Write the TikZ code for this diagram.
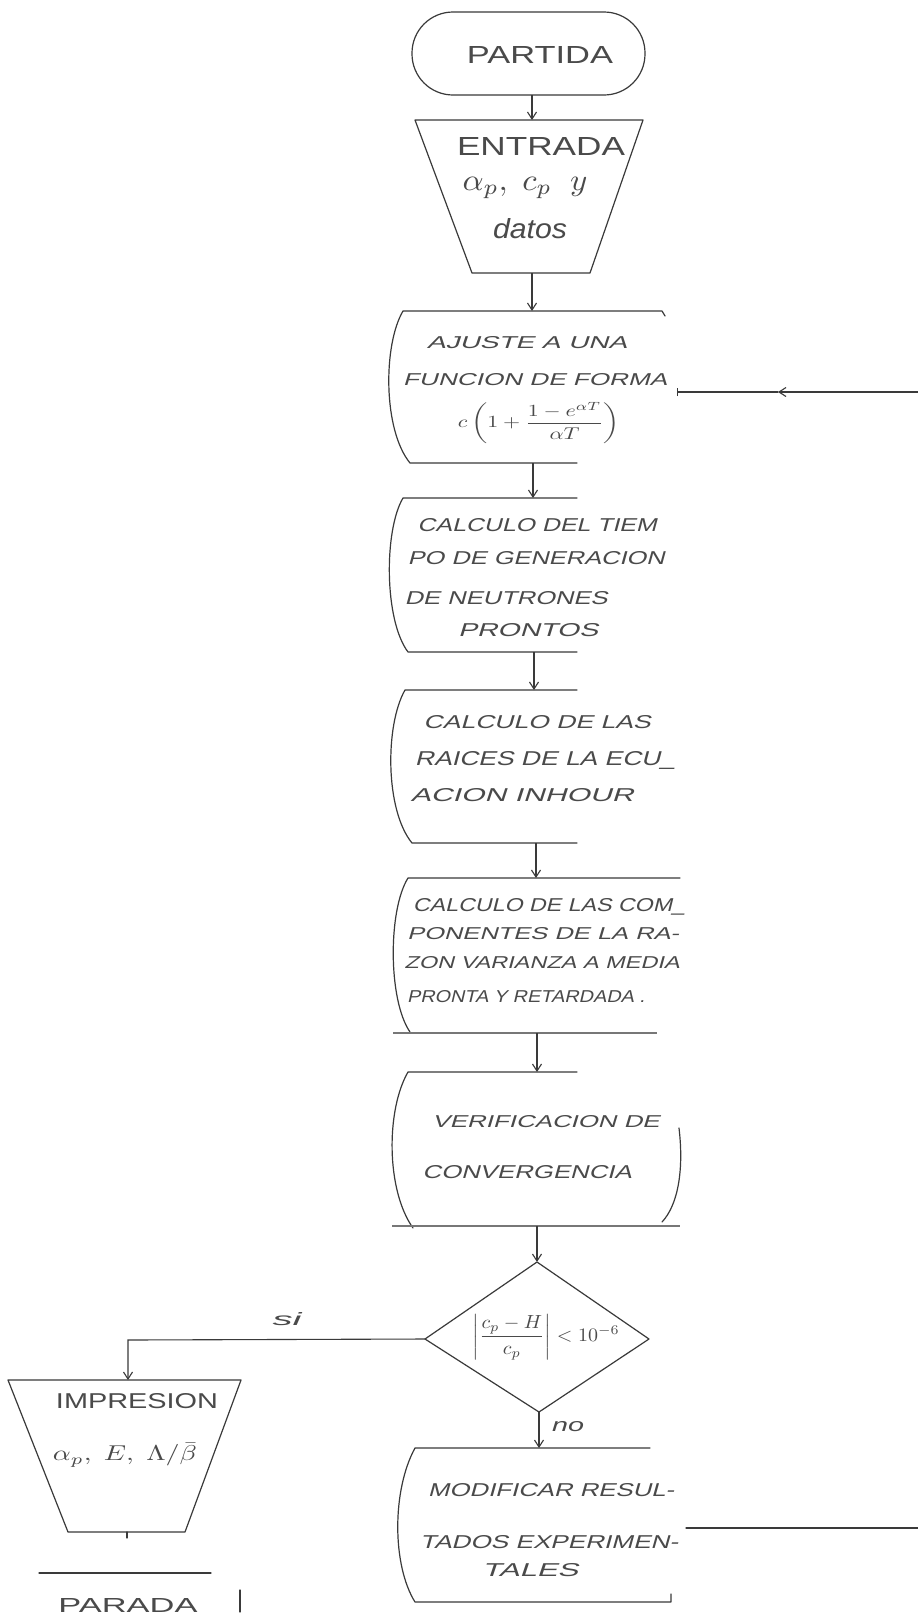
\documentclass[tikz,border=0pt]{standalone}
\usepackage{fontspec}
\usepackage{graphicx}
\usepackage{amsmath}
\usetikzlibrary{arrows.meta}
\setmainfont{Liberation Sans}
\newfontfamily\hwu{Liberation Sans}
\newfontfamily\hwi{Liberation Sans}[FakeSlant=0.2]
\definecolor{ink}{HTML}{3A3A3A}
\definecolor{txt}{HTML}{4A4A4A}
\definecolor{thk}{HTML}{777777}
\newcommand{\fw}[3]{\resizebox{#1pt}{#2pt}{#3}}
\newcommand{\ft}[3]{\resizebox*{#1pt}{#2pt}{#3}}
\newcommand{\fx}[2]{\resizebox{#1pt}{!}{#2}}
\tikzset{
  ln/.style={draw=ink, line width=1.2pt, line join=round, line cap=round},
  thick line/.style={draw=thk, line width=2.6pt},
  arr/.style={draw=ink, line width=1.1pt, -{Straight Barb[length=7pt,width=9pt,line width=1.1pt]}},
  tx/.style={inner sep=0pt, text=txt, anchor=center},
}
\begin{document}
\begin{tikzpicture}[x=1pt,y=-1pt]
\useasboundingbox (0,0) rectangle (918,1620);
\fill[white] (0,0) rectangle (918,1620);

% ---------- PARTIDA ----------
\draw[ln, rounded corners=41pt] (412,12) rectangle (645,95);
\node[tx] (partida) at (540,55) {\fw{146}{17}{\hwu PARTIDA}};
\coordinate (p-out) at (532,95);

% ---------- ENTRADA ----------
\draw[ln] (415,120) -- (643,120) -- (590,273) -- (472,273) -- cycle;
\coordinate (e-in) at (532,120);
\coordinate (e-out) at (532,273);
\node[tx] (entrada) at (541,146) {\fw{168}{18}{\hwu ENTRADA}};
\node[tx] (ent2) at (525,188) {\ft{125}{22}{$\alpha_p,\;c_p\;\;y$}};
\node[tx] (ent3) at (530,229) {\fw{74}{20}{$\mathit{datos}$}};

% ---------- AJUSTE ----------
\draw[ln] (665,316) -- (662,311) -- (403,311) .. controls (383,345) and (383,430) .. (410,463) -- (577,463);
\coordinate (a-in) at (532,311);
\coordinate (a-out) at (533,463);
\node[tx] (aj1) at (527,343) {\fw{200}{12}{\hwi AJUSTE A UNA}};
\node[tx] (aj2) at (535,380) {\fw{264}{12}{\hwi FUNCION DE FORMA}};
\node[tx] (aj3) at (539,423) {\ft{162}{42}{$c\left(1+\dfrac{1-e^{\alpha T}}{\alpha T}\right)$}};
% loop-back connector (right)
\coordinate (lb1) at (918,392);
\coordinate (lbm) at (778,392);
\coordinate (lb2) at (677,392);
\draw[arr] (lb1) -- (lbm);
\draw[ln, {Bar[width=8pt,line width=1.2pt]}-] (lb2) -- (lbm);

% ---------- CALCULO DEL TIEMPO ----------
\draw[ln] (577,498) -- (403,498) .. controls (384,530) and (384,620) .. (408,652) -- (577,652);
\coordinate (t-in) at (533,498);
\coordinate (t-out) at (534,652);
\node[tx] (ti1) at (537,525) {\fw{239}{13}{\hwi CALCULO DEL TIEM}};
\node[tx] (ti2) at (536,558) {\fw{257}{13}{\hwi PO DE GENERACION}};
\node[tx] (ti3) at (506,598) {\fw{203}{13}{\hwi DE NEUTRONES}};
\node[tx] (ti4) at (528,630) {\fw{140}{13}{\hwi PRONTOS}};

% ---------- RAICES ----------
\draw[ln] (577,690) -- (405,690) .. controls (385,725) and (385,810) .. (412,843) -- (577,843);
\coordinate (r-in) at (534,690);
\coordinate (r-out) at (536,843);
\node[tx] (ra1) at (537,722) {\fw{227}{13}{\hwi CALCULO DE LAS}};
\node[tx] (ra2) at (545,760) {\fw{260}{14}{\hwi RAICES DE LA ECU\_}};
\node[tx] (ra3) at (522,795) {\fw{223}{13}{\hwi ACION INHOUR}};

% ---------- COMPONENTES ----------
\draw[ln] (680,878) -- (408,878) .. controls (388,910) and (388,1000) .. (410,1032);
\draw[thick line] (393,1033) -- (657,1033);
\coordinate (c-in) at (536,878);
\coordinate (c-out) at (537,1033);
\node[tx] (co1) at (549,907) {\fw{272}{13}{\hwi CALCULO DE LAS COM\_}};
\node[tx] (co2) at (543,934) {\fw{272}{12}{\hwi PONENTES DE LA RA-}};
\node[tx] (co3) at (542,963) {\fw{275}{12}{\hwi ZON VARIANZA A MEDIA}};
\node[tx] (co4) at (526,997) {\fw{238}{12}{\hwi PRONTA Y RETARDADA .}};

% ---------- VERIFICACION ----------
\draw[ln] (577,1072) -- (408,1072) .. controls (386,1110) and (386,1190) .. (413,1228);
\draw[ln] (679,1128) .. controls (684,1170) and (678,1205) .. (662,1222);
\draw[thick line] (392,1226) -- (680,1226);
\coordinate (v-in) at (537,1072);
\coordinate (v-out) at (537,1226);
\node[tx] (ve1) at (546,1122) {\fw{227}{12}{\hwi VERIFICACION DE}};
\node[tx] (ve2) at (527,1172) {\fw{209}{13}{\hwi CONVERGENCIA}};

% ---------- DECISION ----------
\coordinate (d-top) at (537,1262);
\coordinate (d-right) at (649,1339);
\coordinate (d-bot) at (539,1412);
\coordinate (d-left) at (425,1339);
\draw[ln] (d-top) -- (d-right) -- (d-bot) -- (d-left) -- cycle;
\node[tx] (dec) at (546,1337) {\ft{147}{46}{$\left|\dfrac{c_p-H}{c_p}\right|<10^{-6}$}};

% ---------- MODIFICAR ----------
\draw[ln] (650,1448) -- (415,1448) .. controls (392,1490) and (392,1565) .. (415,1602) -- (671,1602) -- (671,1594);
\coordinate (m-in) at (539,1448);
\node[tx] (mo1) at (551,1490) {\fw{246}{13}{\hwi MODIFICAR RESUL-}};
\node[tx] (mo2) at (549,1542) {\fw{258}{13}{\hwi TADOS EXPERIMEN-}};
\node[tx] (mo3) at (530,1570) {\fw{96}{13}{\hwi TALES}};
\coordinate (mb1) at (686,1528);
\coordinate (mb2) at (918,1528);
\draw[ln] (mb1) -- (mb2);

% ---------- IMPRESION ----------
\draw[ln] (8,1380) -- (241,1380) -- (185,1532) -- (68,1532) -- cycle;
\coordinate (i-in) at (128,1380);
\node[tx] (im1) at (137,1401) {\fw{162}{15}{\hwu IMPRESION}};
\node[tx] (im2) at (125,1455) {\ft{144}{24}{$\alpha_p,\;E,\;\Lambda/\bar{\beta}$}};
\draw[ln] (127,1532) -- (127,1538);

% ---------- PARADA ----------
\draw[ln] (39,1573) -- (211,1573);
\draw[ln] (240,1590) -- (240,1612);
\node[tx] (parada) at (128,1605) {\fw{139}{14}{\hwu PARADA}};

% ---------- connectors ----------
\draw[arr] (p-out) -- (e-in);
\draw[arr] (e-out) -- (a-in);
\draw[arr] (a-out) -- (t-in);
\draw[arr] (t-out) -- (r-in);
\draw[arr] (r-out) -- (c-in);
\draw[arr] (c-out) -- (v-in);
\draw[arr] (v-out) -- (d-top);
\draw[arr] (d-bot) -- (m-in);
\draw[arr] (d-left) -- (128,1340) -- (i-in);
\node[tx] (si) at (287,1319) {\fw{29}{13}{$\mathit{si}$}};
\node[tx] (no) at (568,1427) {\fw{32}{10}{$\mathit{no}$}};
\end{tikzpicture}
\end{document}
